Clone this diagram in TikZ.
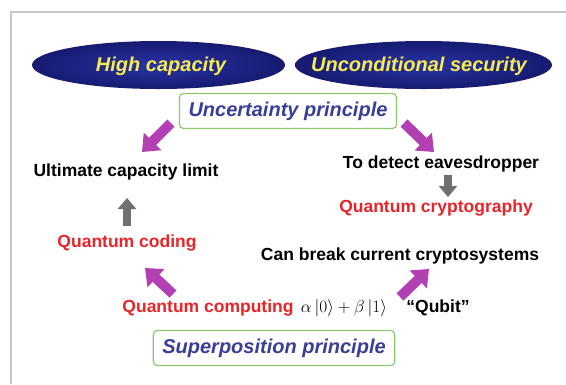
\documentclass[tikz,border=0pt]{standalone}
\usepackage{fontspec}
\setmainfont{Liberation Sans}
\usetikzlibrary{arrows.meta}

\definecolor{navy}{RGB}{30,36,140}
\definecolor{navyin}{RGB}{40,52,165}
\definecolor{navyout}{RGB}{22,26,112}
\definecolor{gold}{RGB}{246,236,80}
\definecolor{boxgreen}{RGB}{140,200,110}
\definecolor{inkblue}{RGB}{58,62,152}
\definecolor{hotred}{RGB}{232,36,42}
\definecolor{plum}{RGB}{178,64,178}
\definecolor{ash}{RGB}{112,112,112}
\definecolor{framegray}{RGB}{200,200,200}

\tikzset{
  goalfill/.style={inner color=navyin, outer color=navyout},
  goal/.style={text=gold, inner sep=0pt, font=\fontsize{20}{24}\selectfont\bfseries\itshape},
  principle/.style={draw=boxgreen, line width=1.2pt, rounded corners=4pt, fill=white,
    text=inkblue, font=\fontsize{20}{24}\selectfont\bfseries\itshape, inner xsep=9pt,
    minimum height=35pt},
  plain/.style={font=\fontsize{17.5}{21}\selectfont\bfseries, text=black, inner sep=1pt},
  result/.style={font=\fontsize{17.5}{21}\selectfont\bfseries, text=hotred, inner sep=1pt},
  bigarrow/.style={plum, line width=10pt, -{Triangle[length=15pt,width=24pt]}},
  smallarrow/.style={ash, line width=8pt, -{Triangle[length=11pt,width=18pt]}}
}

\begin{document}
\begin{tikzpicture}[x=1pt,y=-1pt]
\useasboundingbox (0,0) rectangle (566,384);
\fill[white] (0,0) rectangle (566,384);

% slide frame
\draw[framegray, line width=1.5pt] (11,384) -- (11,12) -- (566,12);

% goals
\shade[goalfill] (158.5,65) ellipse [x radius=126.5, y radius=24];
\shade[goalfill] (423.5,65) ellipse [x radius=128.5, y radius=24];
\node[goal] (cap) at (161,66) {High capacity};
\node[goal] (sec) at (419,66) {Unconditional security};

% principles
\node[principle] (unc) at (288,111) {Uncertainty principle};
\node[principle] (sup) at (274,348) {Superposition principle};

% consequences
\node[plain]  (lim)  at (126,172) {Ultimate capacity limit};
\node[plain]  (eve)  at (441,164) {To detect eavesdropper};
\node[result] (qcr)  at (436,208) {Quantum cryptography};
\node[result] (qcod) at (127,243) {Quantum coding};
\node[plain]  (brk)  at (400,256) {Can break current cryptosystems};
\node[result] (qcmp) at (208,308) {Quantum computing};
\node[font=\fontsize{19}{22}\selectfont, inner sep=1pt] (ket) at (344,308)
  {$\alpha\,|0\rangle+\beta\,|1\rangle$};
\node[plain] (qub) at (438,308) {“Qubit”};

% arrow end points
\coordinate (a1s) at (171,123); \coordinate (a1e) at (142,152);
\coordinate (a2s) at (404,123); \coordinate (a2e) at (434,152);
\coordinate (a3s) at (173,294); \coordinate (a3e) at (145,268);
\coordinate (a4s) at (400,297); \coordinate (a4e) at (429,269);
\coordinate (g1s) at (127,226); \coordinate (g1e) at (127,198);
\coordinate (g2s) at (448,175); \coordinate (g2e) at (448,197);

% block arrows
\draw[bigarrow] (a1s) -- (a1e);
\draw[bigarrow] (a2s) -- (a2e);
\draw[bigarrow] (a3s) -- (a3e);
\draw[bigarrow] (a4s) -- (a4e);
\draw[smallarrow] (g1s) -- (g1e);
\draw[smallarrow] (g2s) -- (g2e);
\end{tikzpicture}
\end{document}
